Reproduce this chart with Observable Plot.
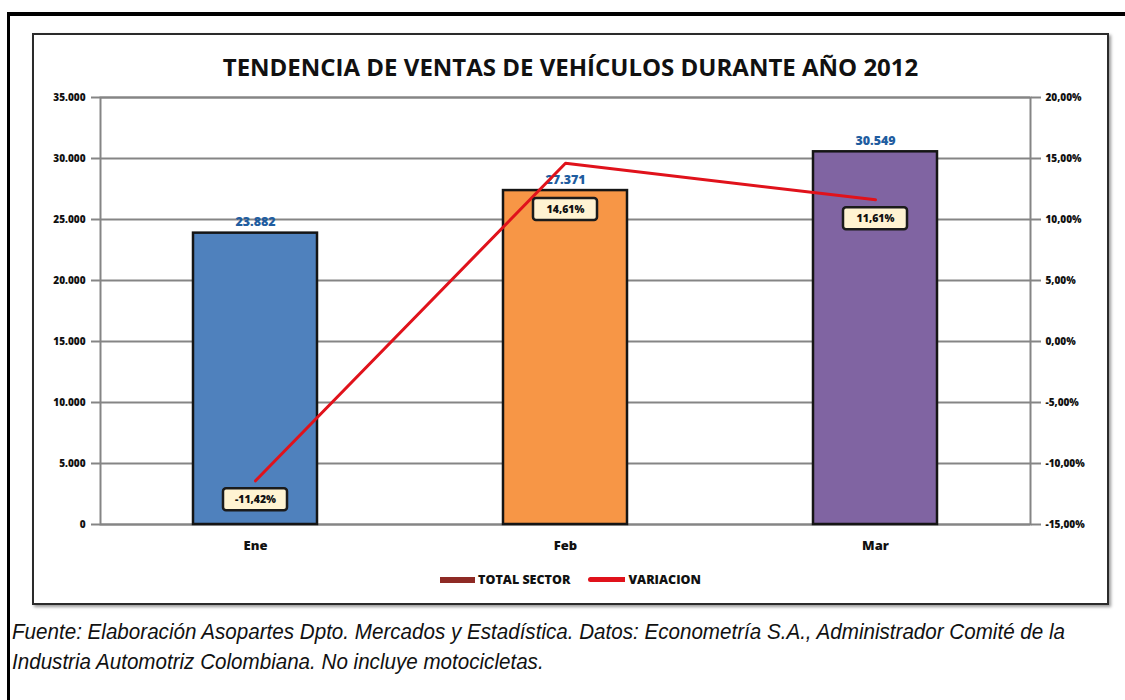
<!DOCTYPE html>
<html>
<head>
<meta charset="utf-8">
<script src="https://cdn.jsdelivr.net/npm/d3@7"></script>
<script src="https://cdn.jsdelivr.net/npm/@observablehq/plot@0.6"></script>
<style>
  html, body { margin: 0; padding: 0; background: #fff; width: 1125px; height: 700px; overflow: hidden; }
  #outer { position: absolute; left: 7px; top: 12px; width: 1200px; height: 800px; border-top: 4px solid #000; border-left: 3px solid #000; }
  #box { position: absolute; left: 32px; top: 33px; width: 1073px; height: 568px; border: 2px solid #2b2b2b; box-shadow: 2px 2px 3px #999; background: #fff; }
  #title { position: absolute; left: 0; top: 15px; width: 1073px; text-align: center; font-family: "Open Sans", sans-serif; font-weight: 700; font-size: 24px; color: #111; }
  #chart { position: absolute; left: 0; top: 50px; }
  #legend { position: absolute; left: 0; top: 536px; width: 1073px; display: flex; justify-content: center; align-items: center; font-family: "Open Sans", sans-serif; font-weight: 800; font-size: 12.5px; color: #111; }
  #caption { position: absolute; left: 12px; top: 617px; font-family: "Liberation Sans", Arial, sans-serif; font-style: italic; font-size: 22px; line-height: 30px; color: #111; white-space: nowrap; transform-origin: 0 0; }
</style>
</head>
<body>
<div id="outer"></div>
<div id="box">
  <div id="title">TENDENCIA DE VENTAS DE VEHÍCULOS DURANTE AÑO 2012</div>
  <div id="chart"></div>
  <div id="legend"></div>
</div>
<div id="caption">Fuente: Elaboración Asopartes Dpto. Mercados y Estadística. Datos: Econometría S.A., Administrador Comité de la<br>Industria Automotriz Colombiana. No incluye motocicletas.</div>
<script>
// ---- data ----
const months = ["Ene", "Feb", "Mar"];
const totalSector = [23882, 27371, 30549];
const variacion = [-11.42, 14.61, 11.61];
const barColors = ["#4F81BD", "#F79646", "#8064A2"];
const leftTicks = [0, 5000, 10000, 15000, 20000, 25000, 30000, 35000];
const rightTicks = [-15, -10, -5, 0, 5, 10, 15, 20];
const seriesNames = ["TOTAL SECTOR", "VARIACION"];
const seriesColors = ["#8E2A25", "#E0121B"];

// ---- helpers ----
const loc = d3.formatLocale({decimal: ",", thousands: ".", grouping: [3], currency: ["", ""], minus: "-"});
const fmtInt = loc.format(",");
const fmtPct = v => loc.format(",.2f")(v) + "%";
// right axis (-15%..20%) mapped onto the left domain (0..35000)
const leftMin = 0, leftMax = 35000, rightMin = rightTicks[0], rightMax = rightTicks[rightTicks.length - 1];
const pctToLeft = p => leftMin + (p - rightMin) / (rightMax - rightMin) * (leftMax - leftMin);
const leftToPct = v => rightMin + (v - leftMin) / (leftMax - leftMin) * (rightMax - rightMin);

const data = months.map((m, i) => ({month: m, total: totalSector[i], pct: variacion[i], color: barColors[i]}));
// percentage label sits just below both the line point and the bar top
const labelAnchor = d => Math.min(pctToLeft(d.pct), d.total);

const gridColor = "#858585";
const font = "'Open Sans', sans-serif";

const plot = Plot.plot({
  width: 1073,
  height: 480,
  marginLeft: 66,
  marginRight: 77,
  marginTop: 12,
  marginBottom: 41,
  style: {fontFamily: font, fontSize: "10px", fontWeight: "800", color: "#111", background: "transparent"},
  x: {domain: months, paddingInner: 0.6, paddingOuter: 0.3, label: null},
  y: {domain: [leftMin, leftMax], label: null},
  marks: [
    Plot.ruleY(leftTicks, {stroke: gridColor, strokeWidth: 2}),
    Plot.axisY(leftTicks, {anchor: "left", tickFormat: fmtInt, tickSize: 9, tickPadding: 6, stroke: gridColor, strokeWidth: 2, fontSize: 10, fontWeight: 800, label: null}),
    Plot.axisY(rightTicks.map(pctToLeft), {anchor: "right", tickFormat: v => fmtPct(leftToPct(v)), tickSize: 10, tickPadding: 5, stroke: gridColor, strokeWidth: 2, fontSize: 10, fontWeight: 800, label: null}),
    Plot.axisX({tickSize: 0, tickPadding: 16, fontSize: 13, fontWeight: 800, label: null}),
    Plot.frame({stroke: gridColor, strokeWidth: 2}),
    Plot.barY(data, {x: "month", y: "total", fill: "color", stroke: "#151515", strokeWidth: 2.5}),
    Plot.text(data, {x: "month", y: "total", text: d => fmtInt(d.total), dy: -11, fill: "#1F5DA0", fontSize: 12.5, fontWeight: 800}),
    Plot.line(data, {x: "month", y: d => pctToLeft(d.pct), stroke: seriesColors[1], strokeWidth: 3}),
    Plot.barY(data, {x: "month", y1: labelAnchor, y2: labelAnchor, insetLeft: 30, insetRight: 30, insetTop: -11, insetBottom: -11, dy: 19, fill: "#FFF3D2", stroke: "#1b1b1b", strokeWidth: 2.5, rx: 3}),
    Plot.text(data, {x: "month", y: labelAnchor, text: d => fmtPct(d.pct), dy: 19, fill: "#111", fontSize: 10.5, fontWeight: 800})
  ]
});
document.getElementById("chart").appendChild(plot);

// legend
const legend = d3.select("#legend");
seriesNames.forEach((name, i) => {
  const item = legend.append("span").style("display", "inline-flex").style("align-items", "center").style("margin", "0 9px");
  item.append("span").style("display", "inline-block")
    .style("width", i === 0 ? "35px" : "37px").style("height", i === 0 ? "6px" : "5px")
    .style("background", seriesColors[i]).style("margin-right", "3px")
    .style("border-radius", i === 0 ? "0" : "3px 0 0 3px");
  item.append("span").text(name);
});

// caption: narrow it to the reference's width
const cap = document.getElementById("caption");
const capW = cap.getBoundingClientRect().width;
cap.style.transform = `scaleX(${1053 / capW})`;
</script>
</body>
</html>
